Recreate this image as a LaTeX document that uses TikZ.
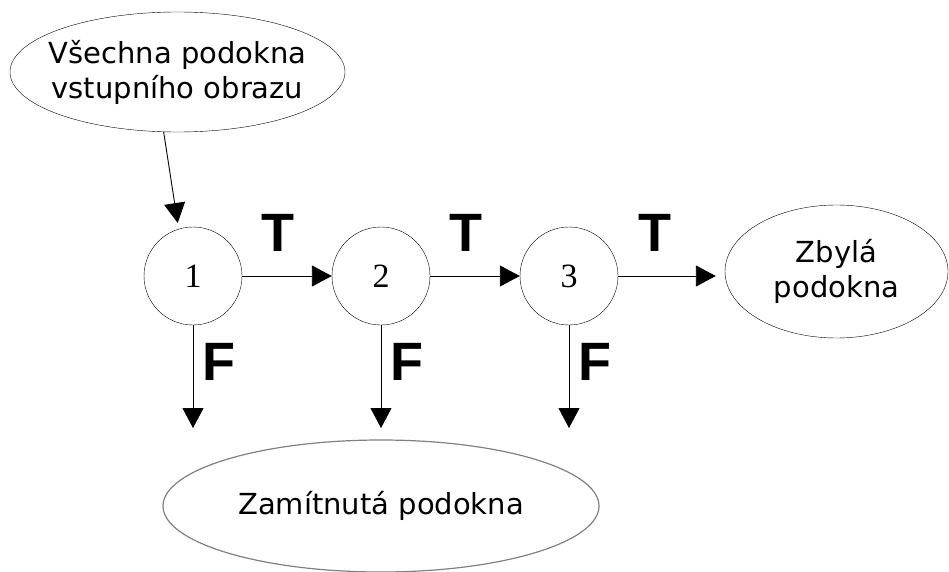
\documentclass[tikz,border=0pt]{standalone}
\usepackage{fontspec}
\setmainfont{DejaVu Sans}
\newfontfamily\tfsans{Liberation Sans}
\newfontfamily\numserif{Liberation Serif}
\usepackage{tikz}
\usetikzlibrary{shapes, arrows.meta, positioning}

\begin{document}
\begin{tikzpicture}[x=1pt, y=-1pt,
    oval/.style={draw, ellipse, inner xsep=-40pt, inner ysep=0pt, align=center, font=\fontsize{29}{35}\selectfont},
    stage/.style={draw, circle, minimum size=98pt, inner sep=0pt, font=\numserif\fontsize{34}{34}\selectfont},
    tf/.style={font=\tfsans\bfseries\fontsize{54}{54}\selectfont, inner sep=0pt},
    flow/.style={-{Triangle[length=20pt, width=21pt]}, line width=0.9pt}]
    \useasboundingbox (0,0) rectangle (949,572);
    % vstup a vystupy
    \node[oval, minimum width=335pt, minimum height=120pt] (all) at (177.5,72) {V\v{s}echna podokna\\vstupn\'iho obrazu};
    \node[oval, minimum width=223pt, minimum height=133pt] (rest) at (836.5,271.5) {Zbyl\'a\\podokna};
    \node[oval, draw=black!50, line width=1.2pt, minimum width=436pt, minimum height=132pt] (rej) at (381,506) {Zam\'itnut\'a podokna};
    % kaskada
    \node[stage] (c1) at (193,276) {1};
    \node[stage] (c2) at (381,276) {2};
    \node[stage] (c3) at (569,276) {3};
    \coordinate (d1) at (193,428);
    \coordinate (d2) at (381,428);
    \coordinate (d3) at (569,428);
    % hrany
    \draw[flow, shorten >=6pt] (all.257) -- (c1.107);
    \draw[flow] (c1) -- (c2);
    \draw[flow] (c2) -- (c3);
    \draw[flow, shorten >=9pt] (c3) -- (c3 -| rest.west);
    \draw[flow] (c1.south) -- (d1);
    \draw[flow] (c2.south) -- (d2);
    \draw[flow] (c3.south) -- (d3);
    % popisky
    \node[tf] (t1) at (278,233) {T};
    \node[tf] (t2) at (466,233) {T};
    \node[tf] (t3) at (655,233) {T};
    \node[tf] (f1) at (219,362) {F};
    \node[tf] (f2) at (407,362) {F};
    \node[tf] (f3) at (595,362) {F};
\end{tikzpicture}
\end{document}
